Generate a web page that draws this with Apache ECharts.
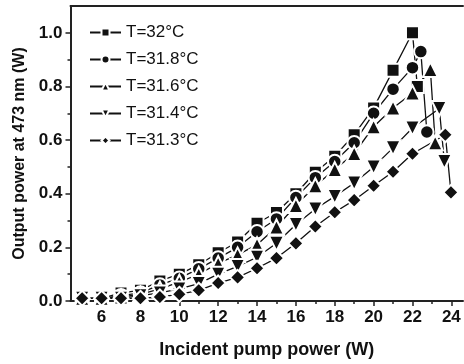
<!DOCTYPE html>
<html>
<head>
<meta charset="utf-8">
<script src="https://cdn.jsdelivr.net/npm/echarts@6/dist/echarts.min.js"></script>
<style>html,body{margin:0;padding:0;background:#fff}#c{width:464px;height:364px}</style>
</head>
<body>
<div id="c"></div>
<script>
// Data
const seriesNames = ['T=32°C', 'T=31.8°C', 'T=31.6°C', 'T=31.4°C', 'T=31.3°C'];
const baseX = [5, 6, 7, 8, 9, 10, 11, 12, 13, 14, 15, 16, 17, 18, 19, 20, 21, 22];
const x32 = baseX.concat([22.25]);
const y32 = [0.01, 0.01, 0.03, 0.04, 0.075, 0.10, 0.135, 0.18, 0.22, 0.29, 0.33, 0.40, 0.48, 0.54, 0.62, 0.72, 0.86, 1.0, 0.80];
const x318 = baseX.concat([22.43, 22.74]);
const y318 = [0.01, 0.01, 0.02, 0.03, 0.06, 0.085, 0.12, 0.16, 0.20, 0.258, 0.306, 0.386, 0.46, 0.52, 0.59, 0.70, 0.79, 0.87, 0.93, 0.63];
const x316 = baseX.concat([22.92, 23.17]);
const y316 = [0.01, 0.01, 0.015, 0.025, 0.045, 0.07, 0.10, 0.14, 0.172, 0.21, 0.276, 0.356, 0.43, 0.49, 0.55, 0.65, 0.72, 0.776, 0.863, 0.59];
const x314 = baseX.concat([23.38, 23.64]);
const y314 = [0.01, 0.01, 0.01, 0.02, 0.03, 0.045, 0.065, 0.10, 0.129, 0.163, 0.215, 0.285, 0.343, 0.39, 0.44, 0.50, 0.571, 0.645, 0.718, 0.52];
const x313 = baseX.concat([23.69, 23.98]);
const y313 = [0.01, 0.01, 0.01, 0.01, 0.015, 0.025, 0.04, 0.067, 0.088, 0.122, 0.16, 0.215, 0.278, 0.331, 0.376, 0.43, 0.482, 0.549, 0.62, 0.405];
const xTickLabels = [6, 8, 10, 12, 14, 16, 18, 20, 22, 24];
const xMinorTicks = [5, 7, 9, 11, 13, 15, 17, 19, 21, 23];
const yTickLabels = [0, 0.2, 0.4, 0.6, 0.8, 1.0];
const yMinorTicks = [0.1, 0.3, 0.5, 0.7, 0.9];

const xsAll = [x32, x318, x316, x314, x313];
const ysAll = [y32, y318, y316, y314, y313];
const symbols = ['rect', 'circle', 'triangle', 'triangle', 'diamond'];
const sizes = [13, 13.5, 15, 15, 15];
const rotates = [0, 0, 0, 180, 0];

const axisColor = '#222';
const font = 'Liberation Sans, Arial, sans-serif';

const chart = echarts.init(document.getElementById('c'), null, {renderer: 'canvas'});

const series = seriesNames.map((name, i) => ({
  name: name,
  type: 'line',
  xAxisIndex: 0,
  yAxisIndex: 0,
  data: xsAll[i].map((x, j) => [x, ysAll[i][j]]),
  symbol: symbols[i],
  symbolSize: sizes[i],
  symbolRotate: rotates[i],
  showAllSymbol: true,
  lineStyle: {color: '#111', width: 1.3},
  itemStyle: {color: '#111', borderColor: '#fff', borderWidth: 2},
  emphasis: {disabled: true},
  animation: false
}));

chart.setOption({
  animation: false,
  grid: {left: 70.5, right: 1, top: 6, bottom: 59, containLabel: false},
  legend: {
    orient: 'vertical',
    left: 89,
    top: 24,
    padding: 0,
    itemWidth: 31,
    itemHeight: 10,
    itemGap: 10,
    data: seriesNames,
    textStyle: {fontFamily: font, fontSize: 17, color: '#111', lineHeight: 17}
  },
  xAxis: [
    {
      type: 'value', position: 'bottom', min: 4.4, max: 24.6,
      name: 'Incident pump power (W)', nameLocation: 'middle', nameGap: 40,
      nameTextStyle: {fontFamily: font, fontSize: 18, fontWeight: 'bold', color: '#111'},
      axisLine: {show: true, lineStyle: {color: axisColor, width: 2}},
      axisTick: {show: true, inside: false, length: 5, lineStyle: {color: axisColor, width: 1.5}, customValues: xTickLabels},
      axisLabel: {show: true, customValues: xTickLabels, margin: 8, fontFamily: font, fontSize: 17, fontWeight: 'bold', color: '#111'},
      splitLine: {show: false}
    },
    {
      type: 'value', position: 'bottom', min: 4.4, max: 24.6,
      axisLine: {show: false},
      axisTick: {show: true, inside: false, length: 3, lineStyle: {color: axisColor, width: 1.5}, customValues: xMinorTicks},
      axisLabel: {show: false},
      splitLine: {show: false}
    },
    {
      type: 'value', position: 'top', min: 4.4, max: 24.6,
      axisLine: {show: true, lineStyle: {color: axisColor, width: 2}},
      axisTick: {show: false},
      axisLabel: {show: false},
      splitLine: {show: false}
    }
  ],
  yAxis: [
    {
      type: 'value', position: 'left', min: 0, max: 1.1,
      name: 'Output power at 473 nm (W)', nameLocation: 'middle', nameGap: 35, nameRotate: 90,
      nameTextStyle: {fontFamily: font, fontSize: 16, fontWeight: 'bold', color: '#111'},
      axisLine: {show: true, lineStyle: {color: axisColor, width: 2}},
      axisTick: {show: true, inside: false, length: 5, lineStyle: {color: axisColor, width: 1.5}, customValues: yTickLabels},
      axisLabel: {show: true, customValues: yTickLabels, margin: 8, fontFamily: font, fontSize: 17, fontWeight: 'bold', color: '#111',
        formatter: v => v.toFixed(1)},
      splitLine: {show: false}
    },
    {
      type: 'value', position: 'left', min: 0, max: 1.1,
      axisLine: {show: false},
      axisTick: {show: true, inside: false, length: 3, lineStyle: {color: axisColor, width: 1.5}, customValues: yMinorTicks},
      axisLabel: {show: false},
      splitLine: {show: false}
    }
  ],
  series: series
});
</script>
</body>
</html>
